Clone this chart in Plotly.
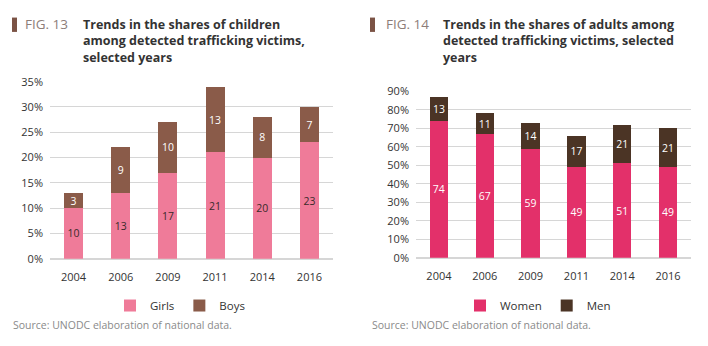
import plotly.graph_objects as go

# Fig. 13 - children
years_children = ["2004", "2006", "2009", "2011", "2014", "2016"]
girls = [10, 13, 17, 21, 20, 23]
boys = [3, 9, 10, 13, 8, 7]

# Fig. 14 - adults
years_adults = ["2004", "2006", "2009", "2011", "2014", "2016"]
women = [74, 67, 59, 49, 51, 49]
men = [13, 11, 14, 17, 21, 21]

W, H = 708, 346
FONT = "Open Sans"
C_GIRLS, C_BOYS = "#ef7b99", "#8a5b49"
C_WOMEN, C_MEN = "#e3306a", "#4b3425"


def px(x):
    return x / W


def py(y):
    return 1 - y / H


def bar(x, y, name, color, label_color, xa, ya, leg):
    return go.Bar(x=x, y=y, name=name, marker_color=color, marker_line_width=0,
                  text=y, textposition="inside", insidetextanchor="middle", textangle=0,
                  textfont=dict(family=FONT, color=label_color, size=11.5),
                  xaxis=xa, yaxis=ya, legend=leg, width=0.4)


fig = go.Figure()
fig.add_trace(bar(years_children, girls, "Girls", C_GIRLS, "#3a2a2a", "x", "y", "legend"))
fig.add_trace(bar(years_children, boys, "Boys", C_BOYS, "white", "x", "y", "legend"))
fig.add_trace(bar(years_adults, women, "Women", C_WOMEN, "white", "x2", "y2", "legend2"))
fig.add_trace(bar(years_adults, men, "Men", C_MEN, "white", "x2", "y2", "legend2"))

axis_font = dict(family=FONT, size=11, color="#333333")
grid = "#d6d6d6"
xa_common = dict(tickfont=axis_font, showgrid=False, showline=False, ticks="",
                 ticklabelstandoff=10)
ya_common = dict(ticksuffix="%", tickfont=axis_font, gridcolor=grid, gridwidth=1,
                 zeroline=True, zerolinecolor=grid, showline=False, ticks="",
                 ticklabelstandoff=6)
leg_common = dict(orientation="h", yanchor="middle", traceorder="normal", itemwidth=30,
                  font=dict(family=FONT, size=11.5, color="#333333"),
                  bgcolor="rgba(0,0,0,0)")

fig.update_layout(
    width=W, height=H, margin=dict(l=0, r=0, t=0, b=0),
    paper_bgcolor="white", plot_bgcolor="white",
    barmode="stack", uniformtext=dict(minsize=8, mode="show"),
    font=dict(family=FONT, size=11, color="#333333"),
    xaxis=dict(domain=[px(50), px(333)], anchor="y", **xa_common),
    yaxis=dict(domain=[py(262), py(77)], anchor="x", range=[0, 35], dtick=5, **ya_common),
    xaxis2=dict(domain=[px(416), px(691)], anchor="y2", **xa_common),
    yaxis2=dict(domain=[py(261), py(87)], anchor="x2", range=[0, 90], dtick=10, **ya_common),
    legend=dict(x=px(180), xanchor="center", y=py(311), **leg_common),
    legend2=dict(x=px(538), xanchor="center", y=py(311), **leg_common),
)

# Figure headings
title_font = dict(family=FONT, size=12.5, color="#333333", weight=700)
fig_font = dict(family=FONT, size=13.5, color="#8d7d78")
headings = [
    (12, 23, "FIG. 13", 82, ["Trends in the shares of children",
                             "among detected trafficking victims,",
                             "selected years"]),
    (370, 384, "FIG. 14", 442, ["Trends in the shares of adults among",
                                "detected trafficking victims, selected",
                                "years"]),
]
for bar_x, fig_x, fig_label, title_x, lines in headings:
    fig.add_shape(type="rect", xref="paper", yref="paper",
                  x0=px(bar_x), x1=px(bar_x + 5), y0=py(25), y1=py(10),
                  fillcolor="#7b5345", line_width=0)
    fig.add_annotation(xref="paper", yref="paper", x=px(fig_x), y=py(17),
                       xanchor="left", yanchor="middle", text=fig_label,
                       showarrow=False, font=fig_font)
    fig.add_annotation(xref="paper", yref="paper", x=px(title_x), y=py(7),
                       xanchor="left", yanchor="top", text="<br>".join(lines),
                       align="left", showarrow=False, borderpad=0, font=title_font)

# Source notes
for sx in (11, 370):
    fig.add_annotation(xref="paper", yref="paper", x=px(sx), y=py(331),
                       xanchor="left", yanchor="middle",
                       text="Source: UNODC elaboration of national data.",
                       showarrow=False, font=dict(family=FONT, size=10.5, color="#8a8a8a"))

fig.write_html("out.html")
